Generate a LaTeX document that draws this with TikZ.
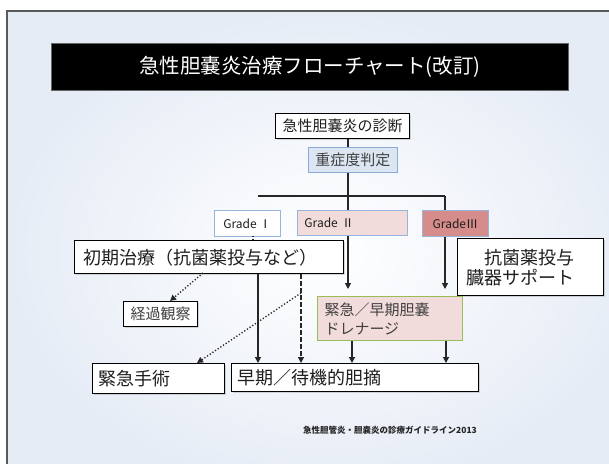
\documentclass[tikz,border=0pt]{standalone}
\usepackage{fontspec}
\setmainfont{Noto Sans CJK JP}
\usetikzlibrary{arrows.meta,shadows}
\definecolor{bgblue}{RGB}{230,236,246}
\definecolor{sevfill}{RGB}{220,230,242}
\definecolor{sevdraw}{RGB}{140,170,215}
\definecolor{gdraw}{RGB}{150,180,220}
\definecolor{pinkfill}{RGB}{242,220,219}
\definecolor{rosefill}{RGB}{214,140,138}
\definecolor{greendraw}{RGB}{155,187,89}
\definecolor{txt}{RGB}{30,30,30}
\begin{document}
\begin{tikzpicture}[x=1pt,y=-1pt,
  box/.style={draw=black, line width=1.4pt, fill=white, inner ysep=0pt, text=txt,
     drop shadow={shadow xshift=1.5pt,shadow yshift=-1.5pt,opacity=0.3}},
  gbox/.style={draw=gdraw, line width=0.8pt, inner sep=0pt, text=txt, font=\fontsize{12}{14}\selectfont},
  conn/.style={line width=1.2pt, draw=black!85},
  arr/.style={conn, -{Triangle[length=6pt,width=6pt]}},
  dasharr/.style={arr, dash pattern=on 4.5pt off 2.5pt},
  dotarr/.style={arr, dotted, line width=1.4pt},
]
\clip (0,0) rectangle (609,463);
\useasboundingbox (0,0) rectangle (609,463);
\fill[white] (0,0) rectangle (609,463);
\shadedraw[inner color=white, outer color=bgblue, draw=black!65, line width=1.2pt] (7,11) rectangle (640,490);

% title
\node[fill=black, draw=black!60, line width=0.8pt, anchor=north west, minimum width=517pt, minimum height=47pt, inner sep=0pt,
  text=white, font=\fontsize{20.5}{22}\selectfont] (title) at (51,43) {急性胆嚢炎治療フローチャート(改訂)};

% junction coordinates
\coordinate (jL) at (258,196);
\coordinate (jC) at (348,196);
\coordinate (jR) at (445,196);
\coordinate (xd) at (301,300);
\coordinate (d2) at (348,289);
\coordinate (d3) at (445,289);
\coordinate (o1) at (203,273);
\coordinate (o2) at (170,301);
\coordinate (e1) at (301,293);
\coordinate (e2) at (197,363);
\coordinate (x3) at (352,350);
\coordinate (x4) at (446,350);
\coordinate (g1a) at (253,236);
\coordinate (g1b) at (253,240);

% nodes
\node[box, anchor=north west, minimum width=134pt, minimum height=25pt, inner sep=0pt,
  font=\fontsize{15}{17}\selectfont] (diag) at (275,113) {急性胆嚢炎の診断};
\node[draw=sevdraw, fill=sevfill, line width=0.8pt, anchor=north west, minimum width=89pt, minimum height=25pt, inner sep=0pt,
  text=black!75, font=\fontsize{15}{17}\selectfont] (sev) at (308,147) {重症度判定};

\node[gbox, fill=white, anchor=north west, minimum width=66pt, minimum height=26pt] (g1) at (214,210) {Grade Ⅰ};
\node[gbox, fill=pinkfill, anchor=north west, minimum height=25pt, text width=96pt, inner xsep=7pt, align=left] (g2) at (297,210) {Grade Ⅱ};
\node[gbox, fill=rosefill, anchor=north west, minimum width=66pt, minimum height=26pt] (g3) at (422,210) {GradeⅢ};

% connectors (drawn before boxes that cover them)
\draw[conn] (diag.south -| jC) -- (sev.north -| jC);
\draw[conn] (sev.south -| jC) -- (jC);
\draw[conn] (jL) -- (jR);
\draw[conn] (jC) -- (g2.north -| jC);
\draw[conn] (jR) -- (g3.north -| jR);
\draw[arr] (g2.south -| d2) -- (d2);
\draw[arr] (g3.south -| d3) -- (d3);

\node[box, anchor=north west, minimum height=33pt, text width=251pt, inner xsep=9pt, align=left,
  font=\fontsize{18}{20}\selectfont] (init) at (74,240) {初期治療（抗菌薬投与など）};
\node[box, anchor=north west, minimum height=57pt, text width=128pt, inner xsep=9pt, align=left,
  font=\fontsize{18}{20}\selectfont] (anti) at (457,238) {\hspace{1em}抗菌薬投与\\臓器サポート};
\node[box, line width=1.2pt, anchor=north west, minimum width=74pt, minimum height=25pt, inner sep=0pt,
  text=black!75, font=\fontsize{15}{17}\selectfont] (obs) at (123,301) {経過観察};
\node[draw=greendraw, fill=pinkfill, line width=1pt, anchor=north west, minimum height=44pt, text width=131pt, inner xsep=7pt,
  inner ysep=0pt, align=left, text=black!75, font=\fontsize{15}{19}\selectfont] (drain) at (317,296) {緊急／早期胆嚢\\ドレナージ};
\node[box, anchor=north west, minimum height=30pt, text width=120pt, inner xsep=6pt, align=left,
  font=\fontsize{18}{20}\selectfont] (emerg) at (92,363) {緊急手術};
\node[box, anchor=north west, minimum height=28pt, text width=235pt, inner xsep=6pt, align=left,
  font=\fontsize{18}{20}\selectfont] (early) at (231,363) {早期／待機的胆摘};

% connectors through / between lower boxes
\draw[conn, dotted, line width=1.2pt] (g1a) -- (g1b);
\draw[dotarr] (o1) -- (o2);
\draw[dotarr] (e1) -- (e2);
\draw[arr] (init.south -| jL) -- (early.north -| jL);
\draw[dasharr] (init.south -| xd) -- (early.north -| xd);
\draw[arr] (drain.south -| x3) -- (early.north -| x3);
\draw[arr] (drain.south -| x4) -- (early.north -| x4);

% footnote
\node[anchor=west, inner sep=0pt, font=\fontsize{8.5}{10}\selectfont\bfseries, text=black!85] (foot) at (303,430)
  {急性胆管炎・胆嚢炎の診療ガイドライン2013};
\end{tikzpicture}
\end{document}
